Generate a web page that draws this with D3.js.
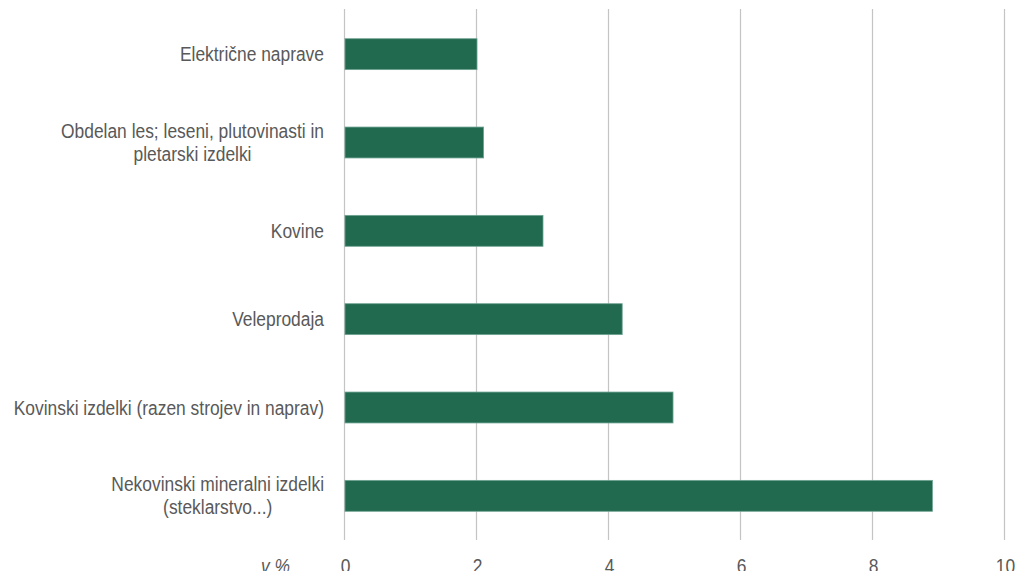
<!DOCTYPE html>
<html>
<head>
<meta charset="utf-8">
<script src="https://cdn.jsdelivr.net/npm/d3@7"></script>
<style>
  html, body { margin: 0; padding: 0; background: #ffffff; }
  svg { display: block; }
  text { font-family: "Liberation Sans", Arial, sans-serif; fill: #595959; }
</style>
</head>
<body>
<script>
// Industry categories (top to bottom) and their share in %
const categories = [
  ["Električne naprave"],
  ["Obdelan les; leseni, plutovinasti in", "pletarski izdelki"],
  ["Kovine"],
  ["Veleprodaja"],
  ["Kovinski izdelki (razen strojev in naprav)"],
  ["Nekovinski mineralni izdelki", "(steklarstvo...)"]
];
const values = [2.0, 2.1, 3.0, 4.2, 4.97, 8.9];
const xTicks = [0, 2, 4, 6, 8, 10];
const unitLabel = "v %";

const W = 1030, H = 571;
const margin = { left: 345, right: 25, top: 10, bottom: 31 };
const fontSize = 20;
const narrow = 0.87;   // horizontal squeeze giving a narrow face

const svg = d3.select("body").append("svg")
  .attr("width", W).attr("height", H);

const x = d3.scaleLinear().domain([0, 10]).range([margin.left, W - margin.right]);
const y = d3.scaleBand()
  .domain(d3.range(categories.length))
  .range([margin.top, H - margin.bottom])
  .paddingInner(0.65).paddingOuter(0.325);

// vertical gridlines (including the zero line)
svg.append("g")
  .selectAll("line")
  .data(xTicks)
  .join("line")
  .attr("x1", d => Math.round(x(d)) - 0.5)
  .attr("x2", d => Math.round(x(d)) - 0.5)
  .attr("y1", margin.top - 1)
  .attr("y2", H - margin.bottom)
  .attr("stroke", "#c4c4c4")
  .attr("stroke-width", 1.2);

// bars
svg.append("g")
  .selectAll("rect")
  .data(values)
  .join("rect")
  .attr("x", x(0))
  .attr("y", (d, i) => y(i))
  .attr("width", d => x(d) - x(0))
  .attr("height", y.bandwidth())
  .attr("fill", "#216a50")
  .attr("stroke", "#6fa392")
  .attr("stroke-width", 0.8);

// category labels: right-aligned block, wrapped lines centred inside it
const labelRight = x(0) - 21;
const lineH = 23;
const lg = svg.append("g").attr("font-size", fontSize);
categories.forEach((lines, i) => {
  const cy = y(i) + y.bandwidth() / 2;
  const g = lg.append("g")
    .attr("transform", `translate(${labelRight},${cy}) scale(${narrow},1)`);
  const t = g.append("text");
  if (lines.length === 1) {
    t.attr("text-anchor", "end").attr("x", 0).attr("y", 0).attr("dy", "0.35em").text(lines[0]);
  } else {
    const tmp = g.append("text");
    let maxW = 0;
    lines.forEach(l => { tmp.text(l); maxW = Math.max(maxW, tmp.node().getComputedTextLength()); });
    tmp.remove();
    t.attr("text-anchor", "middle");
    lines.forEach((l, j) => {
      t.append("tspan")
        .attr("x", -maxW / 2)
        .attr("y", (j - (lines.length - 1) / 2) * lineH)
        .attr("dy", "0.35em")
        .text(l);
    });
  }
});

// x axis tick labels
const axis = d3.axisBottom(x).tickValues(xTicks).tickSize(0).tickPadding(0).tickFormat(d3.format("d"));
const ag = svg.append("g")
  .attr("transform", `translate(0, ${H - margin.bottom})`)
  .call(axis);
ag.select(".domain").remove();
ag.selectAll(".tick text")
  .attr("font-size", fontSize)
  .attr("font-family", "Liberation Sans, Arial, sans-serif")
  .attr("fill", "#595959")
  .attr("y", 0)
  .attr("dy", 0)
  .attr("transform", `translate(0,${margin.bottom + 1.5}) scale(${narrow},1)`);

svg.append("g")
  .attr("transform", `translate(290,${H + 1.5}) scale(${narrow},1)`)
  .append("text")
  .attr("text-anchor", "end")
  .attr("font-size", fontSize)
  .attr("font-style", "italic")
  .text(unitLabel);
</script>
</body>
</html>
